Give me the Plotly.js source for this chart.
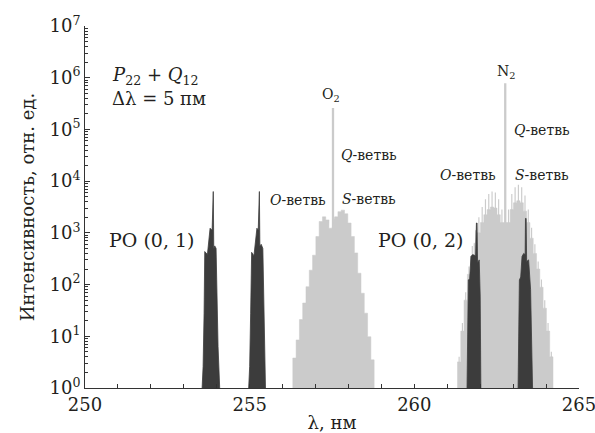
<!DOCTYPE html>
<html>
<head>
<meta charset="utf-8">
<script src="https://cdn.plot.ly/plotly-3.0.1.min.js"></script>
<style>html,body{margin:0;padding:0;background:#fff;}#chart{width:595px;height:433px;}</style>
</head>
<body>
<div id="chart"></div>
<script>
// ---- O2 Raman band (light gray staircase), step centres (nm) and intensity ----
const o2Lambda = [256.36, 256.46, 256.56, 256.66, 256.76, 256.86, 256.96, 257.06, 257.16, 257.26, 257.36, 257.455,
                  257.63, 257.73, 257.83, 257.93, 258.03, 258.13, 258.23, 258.33, 258.43, 258.53, 258.63, 258.73];
const o2Intensity = [3.8, 8.5, 21, 44, 91, 190, 370, 850, 1660, 2040, 1780, 1230,
                     2040, 2570, 2750, 2340, 1550, 850, 410, 166, 68, 28, 9.8, 3.5];

// ---- N2 Raman band: rotational lines (peak) and the filled level between them ----
const n2Lambda = [261.36, 261.46, 261.56, 261.66, 261.76, 261.86, 261.96, 262.06, 262.16, 262.26, 262.36, 262.46, 262.56, 262.66,
                  262.86, 262.96, 263.06, 263.16, 263.26, 263.36, 263.46, 263.56, 263.66, 263.76, 263.86, 263.96, 264.06, 264.16];
const n2Peak = [4, 18, 71, 224, 560, 1120, 2000, 3160, 4470, 5620, 6310, 6030, 4470, 2820,
                2820, 5620, 7590, 8510, 7590, 5250, 2820, 1260, 600, 280, 126, 50, 18, 5];
const n2Base = [3.2, 12.6, 50, 158, 355, 630, 1000, 1580, 2240, 2820, 3160, 3020, 2240, 1580,
                1580, 2820, 3800, 4170, 3800, 2630, 1580, 790, 400, 200, 89, 35, 12.6, 4];

// ---- Q-branch spikes (O2, N2) ----
const qLambda = [257.53, 262.76];
const qIntensity = [2.6e5, 7.8e5];

// ---- PO bands (dark), outline points ----
const po01aLambda = [253.556, 253.586, 253.616, 253.636, 253.717, 253.758, 253.798, 253.86, 253.875, 253.895, 253.91, 253.94, 253.98, 254.0, 254.04, 254.09];
const po01aIntensity = [1, 2.6, 28, 435, 380, 850, 1230, 1120, 6300, 6300, 500, 560, 500, 123, 6.3, 1];
const po01bLambda = [254.97, 255.0, 255.03, 255.06, 255.13, 255.18, 255.22, 255.26, 255.275, 255.295, 255.31, 255.35, 255.40, 255.42, 255.45, 255.48];
const po01bIntensity = [1, 2.6, 28, 420, 360, 850, 1230, 1120, 6300, 6300, 560, 600, 500, 123, 6.3, 1];
const po02aLambda = [261.60, 261.62, 261.64, 261.68, 261.72, 261.77, 261.86, 261.885, 261.905, 261.92, 261.97, 262.00, 262.02];
const po02aIntensity = [1, 20, 123, 130, 350, 380, 360, 1550, 1550, 260, 300, 60, 1];
const po02bLambda = [263.15, 263.17, 263.19, 263.23, 263.27, 263.32, 263.365, 263.375, 263.395, 263.41, 263.47, 263.53, 263.56, 263.59];
const po02bIntensity = [1, 20, 123, 140, 350, 400, 380, 1900, 1900, 280, 300, 80, 10, 1];

// ---- axis ticks ----
const xTickVals = [250,251,252,253,254,255,256,257,258,259,260,261,262,263,264,265];
const xTickText = ['250','','','','','255','','','','','260','','','','','265'];
const yTickVals = [1,10,100,1000,1e4,1e5,1e6,1e7];
const yTickText = ['10<sup>0</sup>','10<sup>1</sup>','10<sup>2</sup>','10<sup>3</sup>','10<sup>4</sup>','10<sup>5</sup>','10<sup>6</sup>','10<sup>7</sup>'];

const GRAY = '#cbcbcb';
const DARK = '#3c3c3c';
const TXT = '#231f20';
const FONT = 'DejaVu Serif, Liberation Serif, serif';
const STEP_HALF = 0.05;   // half of the 0.1 nm sampling step
const BASELINE = 1;       // bottom of the log axis (10^0)

// staircase outline (filled polygon) from step centres and values
function stairs(centres, values, color) {
  const x = [centres[0] - STEP_HALF], y = [BASELINE];
  for (let i = 0; i < centres.length; i++) {
    x.push(centres[i] - STEP_HALF, centres[i] + STEP_HALF);
    y.push(values[i], values[i]);
  }
  x.push(centres[centres.length - 1] + STEP_HALF); y.push(BASELINE);
  return {type:'scatter', mode:'lines', x:x, y:y, fill:'toself', fillcolor:color,
          line:{color:color, width:0.5}, hoverinfo:'skip'};
}

function darkBand(x, y) {
  return {type:'scatter', mode:'lines', x:x, y:y, fill:'toself', fillcolor:DARK,
          line:{color:DARK, width:0.8}, hoverinfo:'skip'};
}

const traces = [
  {type:'bar', x:n2Lambda, y:n2Peak, width:0.035, marker:{color:GRAY, line:{width:0}}, hoverinfo:'skip'},
  {type:'bar', x:qLambda, y:qIntensity, width:0.07, marker:{color:GRAY, line:{width:0}}, hoverinfo:'skip'},
  stairs(o2Lambda, o2Intensity, GRAY),
  stairs(n2Lambda, n2Base, GRAY),
  darkBand(po01aLambda, po01aIntensity),
  darkBand(po01bLambda, po01bIntensity),
  darkBand(po02aLambda, po02aIntensity),
  darkBand(po02bLambda, po02bIntensity)
];

function ann(text, x, y, size, xanchor) {
  return {text:text, xref:'paper', yref:'paper', x:x, y:y, xanchor:xanchor||'left', yanchor:'middle',
          showarrow:false, font:{family:FONT, size:size, color:TXT}};
}

const layout = {
  width:595, height:433,
  margin:{l:85, r:16, t:26, b:45},
  paper_bgcolor:'#fff', plot_bgcolor:'#fff',
  showlegend:false, barmode:'overlay',
  font:{family:FONT, color:TXT},
  xaxis:{range:[250,265], tickmode:'array', tickvals:xTickVals, ticktext:xTickText,
         ticks:'inside', ticklen:4, tickcolor:'#333', showline:true, linecolor:'#333', linewidth:1,
         showgrid:false, zeroline:false, ticklabeloverflow:'allow',
         tickfont:{family:FONT, size:18, color:TXT},
         title:{text:'λ, нм', font:{family:FONT, size:18, color:TXT}, standoff:2}},
  yaxis:{type:'log', range:[0,7], tickmode:'array', tickvals:yTickVals, ticktext:yTickText,
         ticks:'inside', ticklen:5, tickcolor:'#333', showline:true, linecolor:'#333', linewidth:1,
         showgrid:false, zeroline:false, tickfont:{family:FONT, size:18, color:TXT},
         minor:{ticks:'inside', ticklen:3, dtick:'D1', tickcolor:'#333', showgrid:false},
         title:{text:'Интенсивность, отн. ед.', font:{family:FONT, size:18, color:TXT}, standoff:10}},
  annotations:[
    ann('<i>P</i><sub>22</sub> + <i>Q</i><sub>12</sub>', 0.05, 0.862, 18),
    ann('Δλ = 5 пм', 0.05, 0.799, 18),
    ann('PO (0, 1)', 0.044, 0.409, 19),
    ann('PO (0, 2)', 0.589, 0.409, 19),
    ann('O<sub>2</sub>', 0.498, 0.81, 14, 'center'),
    ann('<i>Q</i>-ветвь', 0.514, 0.644, 14),
    ann('<i>O</i>-ветвь', 0.370, 0.519, 14),
    ann('<i>S</i>-ветвь', 0.516, 0.522, 14),
    ann('N<sub>2</sub>', 0.852, 0.873, 14, 'center'),
    ann('<i>Q</i>-ветвь', 0.864, 0.713, 14),
    ann('<i>O</i>-ветвь', 0.715, 0.588, 14),
    ann('<i>S</i>-ветвь', 0.867, 0.588, 14)
  ]
};

Plotly.newPlot('chart', traces, layout, {displayModeBar:false, staticPlot:true});
</script>
</body>
</html>
